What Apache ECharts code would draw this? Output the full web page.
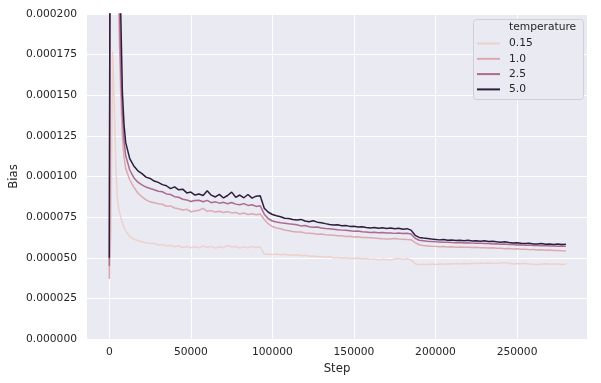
<!DOCTYPE html>
<html>
<head>
<meta charset="utf-8">
<title>Bias by temperature</title>
<script src="https://cdn.jsdelivr.net/npm/echarts@6/dist/echarts.min.js"></script>
<style>
  html, body { margin: 0; padding: 0; background: #fff; }
  #main { width: 601px; height: 383px; }
</style>
</head>
<body>
<div id="main"></div>
<script>
// training steps (x)
var steps = [0, 1000, 2000, 3000, 4000, 5000, 6000, 7000, 8000, 9000, 10000,
  12500, 15000, 17500, 20000, 22500, 25000, 27500, 30000, 32500, 35000, 37500, 40000, 42500, 45000, 47500, 50000,
  52500, 55000, 57500, 60000, 62500, 65000, 67500, 70000, 72500, 75000, 77500, 80000, 82500, 85000, 87500, 90000, 92500, 95000, 97500, 100000,
  102500, 105000, 107500, 110000, 112500, 115000, 117500, 120000, 122500, 125000, 127500, 130000, 132500, 135000, 137500, 140000, 142500, 145000, 147500, 150000,
  152500, 155000, 157500, 160000, 162500, 165000, 167500, 170000, 172500, 175000, 177500, 180000, 182500, 185000, 187500, 190000, 192500, 195000, 197500, 200000,
  202500, 205000, 207500, 210000, 212500, 215000, 217500, 220000, 222500, 225000, 227500, 230000, 232500, 235000, 237500, 240000, 242500, 245000, 247500, 250000,
  252500, 255000, 257500, 260000, 262500, 265000, 267500, 270000, 272500, 275000, 277500, 280000];

// bias values, in units of 1e-6
var bias015 = [42, 65, 177, 145, 105, 86, 79, 75, 71.5, 68.5, 66.5,
  63, 61.5, 60.5, 59.8, 59.2, 58.7, 58.9, 57.8, 58.2, 57.2, 57.6, 56.8, 57.4, 56.3, 56.9, 56.2,
  56.8, 56.1, 57.2, 56.4, 57.0, 55.9, 56.8, 56.3, 57.5, 56.6, 56.9, 56.0, 56.7, 56.2, 56.9, 56.3, 56.6, 52.3, 52.2, 52.0,
  52.3, 51.9, 52.2, 51.8, 51.6, 51.9, 51.2, 51.5, 50.9, 51.1, 50.6, 50.7, 50.3, 50.6, 49.9, 50.2, 49.7, 50.0, 49.6, 49.5,
  49.8, 49.2, 49.6, 49.0, 49.3, 48.8, 49.1, 48.9, 48.6, 49.3, 49.6, 48.9, 49.4, 48.7, 46.3, 45.9, 46.0, 45.8, 46.1, 45.9,
  46.2, 46.0, 46.3, 46.1, 46.4, 46.2, 46.5, 46.3, 46.6, 46.4, 46.7, 46.5, 46.8, 46.6, 46.5, 46.7, 47.0, 46.6, 46.2, 46.5,
  46.3, 46.6, 46.2, 46.0, 45.7, 46.1, 46.3, 46.0, 46.2, 46.1, 45.9, 46.0];

var bias10 = [37, 420, 400, 350, 300, 245, 190, 150, 124, 112, 105,
  98, 93.5, 89.8, 87.5, 85.6, 84.4, 83.8, 83.2, 82.9, 81.7, 81.9, 80.6, 80.1, 79.4, 79.8, 78.3,
  78.8, 79.2, 80.4, 78.6, 79.0, 78.1, 78.6, 77.8, 78.4, 77.6, 77.9, 76.9, 77.5, 76.6, 77.1, 76.5, 76.9, 73.5, 70.8, 69.2,
  68.3, 67.8, 67.1, 66.6, 66.1, 65.8, 65.9, 65.3, 65.1, 64.9, 64.5, 64.6, 64.1, 64.0, 63.8, 63.5, 63.6, 63.1, 63.2, 62.8,
  62.9, 62.5, 62.4, 62.3, 62.1, 61.9, 61.7, 61.6, 61.6, 61.9, 61.5, 61.4, 61.2, 61.1, 59.3, 58.0, 57.5, 57.3, 57.1, 57.0,
  56.8, 56.9, 56.6, 56.7, 56.5, 56.6, 56.4, 56.5, 56.3, 56.4, 56.2, 56.1, 56.0, 56.1, 55.8, 55.9, 55.6, 55.7, 55.4, 55.5,
  55.2, 55.3, 55.0, 55.1, 54.8, 54.9, 54.6, 54.7, 54.4, 54.5, 54.3, 54.2];

var bias25 = [45, 480, 450, 400, 340, 280, 215, 165, 138, 122, 113,
  104, 99.3, 96.5, 94.8, 93.5, 92.6, 91.8, 90.9, 90.6, 89.3, 88.9, 87.6, 87.2, 86.0, 85.6, 84.6,
  85.2, 85.4, 84.5, 85.3, 83.9, 84.4, 83.6, 84.1, 83.2, 84.0, 83.0, 82.6, 83.3, 82.2, 82.6, 81.6, 82.0, 76.8, 74.0, 72.6,
  72.0, 71.6, 71.3, 70.9, 70.6, 70.3, 69.6, 69.8, 69.1, 68.8, 68.9, 68.3, 68.0, 67.8, 67.5, 67.2, 67.0, 66.9, 66.6, 66.3,
  66.4, 66.0, 65.9, 65.6, 65.7, 65.4, 65.5, 65.2, 65.3, 65.0, 65.2, 64.9, 65.1, 64.6, 62.0, 60.8, 60.5, 60.2, 60.0, 59.8,
  59.7, 59.5, 59.6, 59.4, 59.3, 59.4, 59.1, 59.2, 59.0, 58.9, 59.0, 58.7, 58.8, 58.5, 58.6, 58.3, 58.4, 58.1, 58.2, 57.9,
  58.0, 57.7, 57.8, 57.5, 57.6, 57.4, 57.5, 57.2, 57.3, 57.1, 57.2, 57.0];

var bias50 = [50, 560, 520, 460, 390, 320, 255, 200, 152, 132, 121,
  111, 106.5, 103.5, 101.8, 99.6, 98.8, 97.2, 96.4, 95.0, 94.3, 92.5, 93.6, 91.8, 92.2, 89.9, 90.4,
  88.6, 89.2, 88.3, 91.2, 88.5, 87.4, 89.0, 86.8, 88.3, 90.4, 87.2, 88.6, 86.9, 88.9, 86.7, 87.9, 88.1, 80.5, 78.0, 76.6,
  75.8, 75.2, 74.3, 74.1, 73.5, 73.2, 73.6, 72.6, 72.2, 72.8, 71.9, 71.6, 71.0, 70.5, 70.1, 70.3, 69.7, 69.8, 69.3, 69.4,
  68.9, 69.1, 68.6, 68.3, 68.6, 68.1, 68.4, 68.0, 68.3, 67.8, 68.1, 67.5, 67.9, 67.0, 63.8, 62.5, 62.1, 61.8, 61.5, 61.3,
  61.0, 61.2, 60.8, 60.9, 60.6, 60.8, 60.5, 60.7, 60.3, 60.5, 60.2, 60.4, 60.0, 60.2, 59.8, 59.6, 59.9, 59.4, 59.1, 59.3,
  58.9, 58.7, 59.0, 58.5, 58.4, 58.7, 58.3, 58.4, 58.2, 58.5, 58.1, 58.3];

var temps = ['0.15', '1.0', '2.5', '5.0'];
var xTicks = [0, 50000, 100000, 150000, 200000, 250000];

var FONT = 'DejaVu Sans';
var TXT = '#262626';
var colors = ['#edd1cb', '#dda9af', '#ad6a91', '#2d1e3e']; // cubehelix, light -> dark

function pairs(ys) {
    return steps.map(function (s, i) { return [s, ys[i]]; });
}

var chart = echarts.init(document.getElementById('main'));
var allBias = [bias015, bias10, bias25, bias50];

var option = {
    animation: false,
    textStyle: { fontFamily: FONT, color: TXT },
    grid: {
        left: 87, top: 14, width: 500, height: 325,
        containLabel: false,
        outerBoundsMode: 'none',
        show: true, backgroundColor: '#eaeaf2', borderWidth: 0
    },
    xAxis: {
        type: 'value',
        min: -13700,
        max: 292900,
        name: 'Step',
        nameLocation: 'middle',
        nameGap: 24,
        nameMoveOverlap: false,
        nameTextStyle: { fontSize: 11.7, color: TXT, fontFamily: FONT },
        axisLine: { show: false },
        axisTick: { show: false, customValues: xTicks },
        axisLabel: {
            customValues: xTicks,
            fontSize: 10.7, color: TXT, margin: 8, fontFamily: FONT,
            formatter: function (v) { return String(v); }
        },
        splitLine: { show: true, lineStyle: { color: '#ffffff', width: 1 } }
    },
    yAxis: {
        type: 'value',
        min: 0,
        max: 200,
        interval: 25,
        name: 'Bias',
        nameLocation: 'middle',
        nameGap: 67,
        nameMoveOverlap: false,
        nameTextStyle: { fontSize: 11.7, color: TXT, fontFamily: FONT },
        axisLine: { show: false },
        axisTick: { show: false },
        axisLabel: {
            fontSize: 10.7, color: TXT, margin: 10, fontFamily: FONT,
            formatter: function (v) { return (v / 1e6).toFixed(6); }
        },
        splitLine: { show: true, lineStyle: { color: '#ffffff', width: 1 } }
    },
    legend: {
        data: temps,
        orient: 'vertical',
        left: 477,
        top: 38,
        padding: 0,
        icon: 'rect',
        itemWidth: 23,
        itemHeight: 2,
        itemGap: 4.3,
        textStyle: { fontSize: 10.7, color: TXT, fontFamily: FONT, lineHeight: 11, padding: [0, 0, 0, 4] }
    },
    graphic: [
        {
            type: 'rect', left: 473, top: 19, z: 3,
            shape: { width: 110, height: 80, r: 3 },
            style: { fill: '#eaeaf2', stroke: '#cfcfd4', lineWidth: 1 }
        },
        {
            type: 'text', x: 509, y: 27, z: 10,
            style: { text: 'temperature', font: '10.7px "DejaVu Sans"', fill: TXT, verticalAlign: 'middle' }
        }
    ],
    series: allBias.map(function (ys, i) {
        return {
            name: temps[i],
            type: 'line',
            data: pairs(ys),
            symbol: 'none',
            showSymbol: false,
            clip: true,
            color: colors[i],
            lineStyle: { width: 1.5, color: colors[i] },
            emphasis: { disabled: true }
        };
    })
};

chart.setOption(option);
</script>
</body>
</html>
